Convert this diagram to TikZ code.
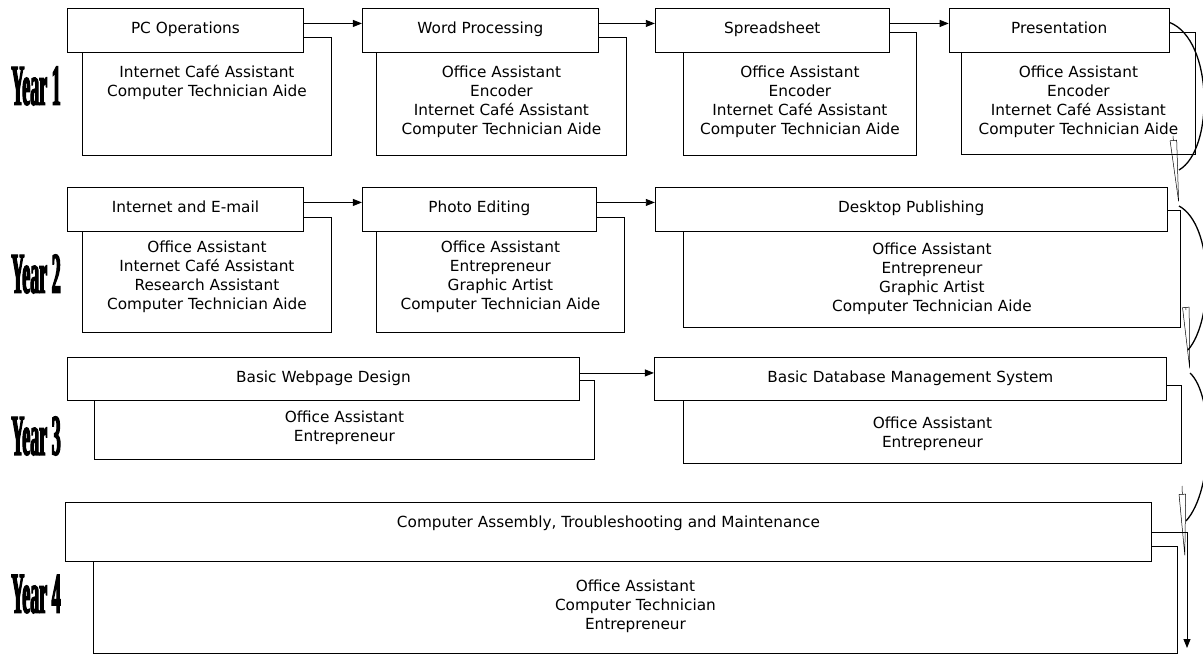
\documentclass[tikz,border=0pt]{standalone}
\usepackage{fontspec}
\usepackage{tikz}
\usetikzlibrary{arrows.meta,positioning}
\newfontfamily\boxfont{DejaVu Sans}
\newfontfamily\yearfont[FakeStretch=0.31,FakeBold=2]{Liberation Serif}

\begin{document}
\begin{tikzpicture}[x=1pt,y=-1pt,
      node distance=58pt,
      course/.style={rectangle,draw,fill=white,line width=0.9pt,minimum height=44pt,inner sep=0pt,
                     text height=11pt,text depth=4pt,font=\boxfont\fontsize{15.3}{19}\selectfont},
      jobs/.style={rectangle,draw,fill=white,line width=0.9pt,anchor=north west,align=center,
                   inner xsep=0pt,inner ysep=0pt,font=\boxfont\fontsize{15.3}{19}\selectfont},
      year/.style={font=\yearfont\bfseries\fontsize{58}{58}\selectfont,inner sep=0pt},
      a/.style={-{Triangle[length=9pt,width=7pt]},line width=0.9pt},
      sweep/.style={line width=1.3pt},
      barb/.style={-{Triangle[open,length=66pt,width=7pt]},line width=0.5pt}]
    \useasboundingbox (0,0) rectangle (1203,655);
    % year labels
    \node[year] (y1) at (36,86) {Year 1};
    \node[year] (y2) at (36,274) {Year 2};
    \node[year] (y3) at (36,436) {Year 3};
    \node[year] (y4) at (36,594) {Year 4};
    % job boxes go first, the course boxes sit on top of them
    \node[jobs,minimum width=249pt,text height=59pt,text depth=59pt] (pcjobs) at (82,37) {Internet Café Assistant\\Computer Technician Aide};
    \node[jobs,minimum width=250pt,text height=97pt,text depth=21pt] (wpjobs) at (376,37) {Office Assistant\\Encoder\\Internet Café Assistant\\Computer Technician Aide};
    \node[jobs,minimum width=233pt,text height=102pt,text depth=21pt] (ssjobs) at (683,32) {Office Assistant\\Encoder\\Internet Café Assistant\\Computer Technician Aide};
    \node[jobs,minimum width=234pt,text height=102pt,text depth=20pt] (presjobs) at (961,32) {Office Assistant\\Encoder\\Internet Café Assistant\\Computer Technician Aide};
    \node[jobs,minimum width=249pt,text height=92pt,text depth=23pt] (iejobs) at (82,217) {Office Assistant\\Internet Café Assistant\\Research Assistant\\Computer Technician Aide};
    \node[jobs,minimum width=248pt,text height=92pt,text depth=23pt] (pejobs) at (376,217) {Office Assistant\\Entrepreneur\\Graphic Artist\\Computer Technician Aide};
    \node[jobs,minimum width=497pt,text height=101pt,text depth=16pt] (dtpjobs) at (683,210) {Office Assistant\\Entrepreneur\\Graphic Artist\\Computer Technician Aide};
    \node[jobs,minimum width=500pt,text height=61pt,text depth=18pt] (wdjobs) at (94,380) {Office Assistant\\Entrepreneur};
    \node[jobs,minimum width=498pt,text height=62pt,text depth=16pt] (dbjobs) at (683,385) {Office Assistant\\Entrepreneur};
    \node[jobs,minimum width=1084pt,text height=83pt,text depth=24pt] (catjobs) at (93,546) {Office Assistant\\Computer Technician\\Entrepreneur};
    % year 1
    \node[course,anchor=north west,minimum width=236pt] (pc) at (67,8) {PC Operations};
    \node[course,minimum width=236pt,right=of pc] (wp) {Word Processing};
    \node[course,minimum width=234pt,right=56pt of wp] (ss) {Spreadsheet};
    \node[course,minimum width=220pt,right=59pt of ss] (pres) {Presentation};
    % year 2
    \node[course,anchor=north west,minimum width=236pt] (ie) at (67,187) {Internet and E-mail};
    \node[course,minimum width=234pt,right=of ie] (pe) {Photo Editing};
    \node[course,minimum width=512pt,right=of pe] (dtp) {Desktop Publishing};
    % year 3
    \node[course,anchor=north west,minimum width=512pt,minimum height=43pt] (wd) at (67,357) {Basic Webpage Design};
    \node[course,minimum width=512pt,minimum height=43pt,right=74pt of wd] (db) {Basic Database Management System};
    % year 4
    \node[course,anchor=north west,minimum width=1086pt,minimum height=59pt,text depth=19pt] (cat) at (65,502) {Computer Assembly, Troubleshooting and Maintenance};
    \draw[a] ([yshift=7pt]pc.east) -- ([yshift=7pt]wp.west);
    \draw[a] ([yshift=7pt]wp.east) -- ([yshift=7pt]ss.west);
    \draw[a] ([yshift=7pt]ss.east) -- ([yshift=7pt]pres.west);
    \draw[a] ([yshift=7pt]ie.east) -- ([yshift=7pt]pe.west);
    \draw[a] ([yshift=7pt]pe.east) -- ([yshift=7pt]dtp.west);
    \draw[a] ([yshift=6pt]wd.east) -- ([yshift=6pt]db.west);
    % hand drawn turns down the right side
    \coordinate (m1) at (1179,170);
    \coordinate (w1) at (1173,136);
    \coordinate (t1) at (1179,206);
    \coordinate (m2) at (1188,350);
    \coordinate (w2) at (1186,310);
    \coordinate (t2) at (1190,373);
    \coordinate (m3) at (1186,521);
    \coordinate (w3) at (1182,486);
    \coordinate (t3) at (1185,560);
    \coordinate (fin) at (1187,648);
    \draw[sweep] ([yshift=8pt]pres.east) .. controls (1214,40) and (1214,150) .. (m1);
    \draw[barb] (w1) -- (t1);
    \draw[sweep] (t1) .. controls (1214,225) and (1214,320) .. (m2);
    \draw[barb] (w2) -- (t2);
    \draw[sweep] (t2) .. controls (1214,395) and (1214,490) .. (m3);
    \draw[barb] (w3) -- (t3);
    \draw[a] (cat.east) -| (fin);
\end{tikzpicture}
\end{document}
